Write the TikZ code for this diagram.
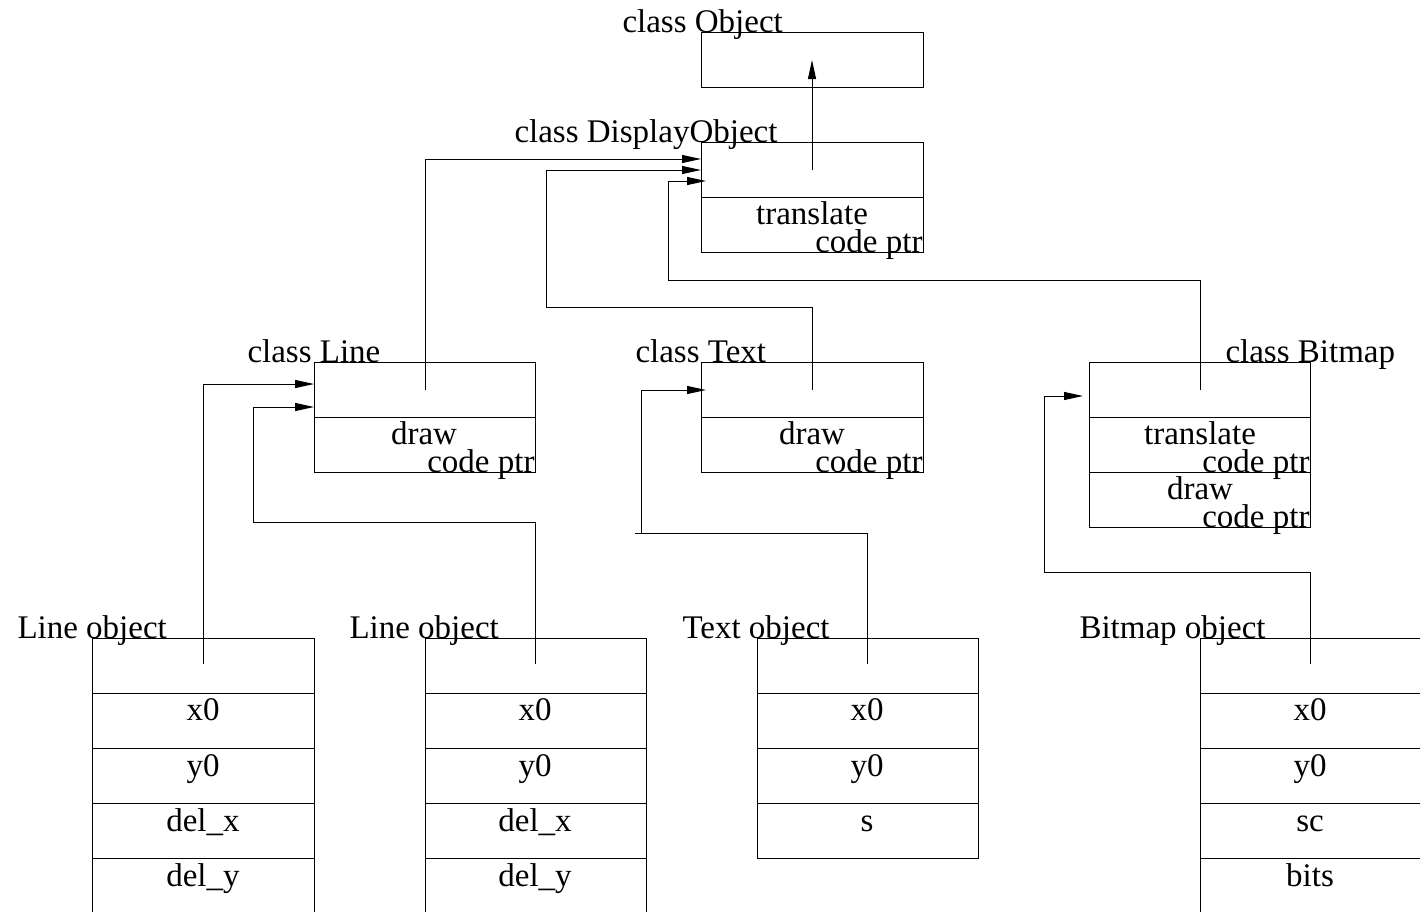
\documentclass[tikz,border=0pt]{standalone}
\usepackage{fontspec}
\setmainfont{Liberation Serif}
\usetikzlibrary{arrows.meta}
\begin{document}
\begin{tikzpicture}[x=1pt,y=-1pt,line width=1pt,
  box/.style={draw,rectangle,inner sep=0pt,outer sep=0pt,anchor=north west},
  txt/.style={inner sep=0pt,font=\fontsize{33}{40}\selectfont},
  lab/.style={txt,anchor=base west},
  ctext/.style={txt,anchor=base},
  rtext/.style={txt,anchor=base east},
  arr/.style={-{Triangle[length=19pt,width=8pt]}}
]
\useasboundingbox (0,0) rectangle (1420,911);
\clip (0,0) rectangle (1420,911);

% ---------- class Object ----------
\node[box,minimum width=222pt,minimum height=55pt] (obj) at (701,32) {};
\node[lab] (objlab) at (622,32) {class Object};

% ---------- class DisplayObject ----------
\node[box,minimum width=222pt,minimum height=110pt] (dobj) at (701,142) {};
\draw (701,197) -- (923,197);
\node[lab] (dobjlab) at (514,142) {class DisplayObject};
\node[ctext] (dobjtr) at (812,224) {translate};
\node[rtext] (dobjcp) at (923,252) {code ptr};

% ---------- class Line ----------
\node[box,minimum width=221pt,minimum height=110pt] (cline) at (314,362) {};
\draw (314,417) -- (535,417);
\node[lab] (clinelab) at (247,362) {class Line};
\node[ctext] (clinedr) at (424,444) {draw};
\node[rtext] (clinecp) at (535,472) {code ptr};

% ---------- class Text ----------
\node[box,minimum width=222pt,minimum height=110pt] (ctext) at (701,362) {};
\draw (701,417) -- (923,417);
\node[lab] (ctextlab) at (635,362) {class Text};
\node[ctext] (ctextdr) at (812,444) {draw};
\node[rtext] (ctextcp) at (923,472) {code ptr};

% ---------- class Bitmap ----------
\node[box,minimum width=221pt,minimum height=165pt] (cbmp) at (1089,362) {};
\draw (1089,417) -- (1310,417);
\draw (1089,472) -- (1310,472);
\node[lab] (cbmplab) at (1225,362) {class Bitmap};
\node[ctext] (cbmptr) at (1200,444) {translate};
\node[rtext] (cbmpcp1) at (1310,472) {code ptr};
\node[ctext] (cbmpdr) at (1200,499) {draw};
\node[rtext] (cbmpcp2) at (1310,527) {code ptr};

% ---------- Line object 1 ----------
\draw (92,950) -- (92,638) -- (314,638) -- (314,950);
\foreach \yy in {693,748,803,858} \draw (92,\yy) -- (314,\yy);
\node[lab] (lo1lab) at (17,638) {Line object};
\node[ctext] (lo1a) at (203,720) {x0};
\node[ctext] (lo1b) at (203,776) {y0};
\node[ctext] (lo1c) at (203,831) {del\_x};
\node[ctext] (lo1d) at (203,886) {del\_y};

% ---------- Line object 2 ----------
\draw (425,950) -- (425,638) -- (646,638) -- (646,950);
\foreach \yy in {693,748,803,858} \draw (425,\yy) -- (646,\yy);
\node[lab] (lo2lab) at (349,638) {Line object};
\node[ctext] (lo2a) at (535,720) {x0};
\node[ctext] (lo2b) at (535,776) {y0};
\node[ctext] (lo2c) at (535,831) {del\_x};
\node[ctext] (lo2d) at (535,886) {del\_y};

% ---------- Text object ----------
\node[box,minimum width=221pt,minimum height=220pt] (tobj) at (757,638) {};
\foreach \yy in {693,748,803} \draw (757,\yy) -- (978,\yy);
\node[lab] (tolab) at (682,638) {Text object};
\node[ctext] (toa) at (867,720) {x0};
\node[ctext] (tob) at (867,776) {y0};
\node[ctext] (toc) at (867,831) {s};

% ---------- Bitmap object ----------
\draw (1200,950) -- (1200,638) -- (1460,638);
\foreach \yy in {693,748,803,858} \draw (1200,\yy) -- (1460,\yy);
\node[lab] (bolab) at (1079,638) {Bitmap object};
\node[ctext] (boa) at (1310,720) {x0};
\node[ctext] (bob) at (1310,776) {y0};
\node[ctext] (boc) at (1310,831) {sc};
\node[ctext] (bod) at (1310,886) {bits};

% ---------- connector end points ----------
\coordinate (dobjsrc) at (812,170);
\coordinate (objtip) at (812,60);
\coordinate (clinesrc) at (425,390);
\coordinate (ctextsrc) at (812,390);
\coordinate (cbmpsrc) at (1200,390);
\coordinate (dtip1) at (701,159);
\coordinate (dtip2) at (701,170);
\coordinate (dtip3) at (706,181);
\coordinate (lo1src) at (203,664);
\coordinate (lo2src) at (535,664);
\coordinate (tosrc) at (867,664);
\coordinate (bosrc) at (1310,664);
\coordinate (ltip1) at (314,384);
\coordinate (ltip2) at (314,407);
\coordinate (ttip) at (706,390);
\coordinate (btip) at (1083,396);
\coordinate (ttick) at (635,533);

% ---------- connectors ----------
\draw[arr] (dobjsrc) -- (objtip);
\draw[arr] (clinesrc) |- (dtip1);
\draw[arr] (ctextsrc) |- (546,307) |- (dtip2);
\draw[arr] (cbmpsrc) |- (668,280) |- (dtip3);
\draw[arr] (lo1src) |- (ltip1);
\draw[arr] (lo2src) |- (253,522) |- (ltip2);
\draw (tosrc) |- (ttick);
\draw[arr] (641,533) |- (ttip);
\draw[arr] (bosrc) |- (1044,572) |- (btip);
\end{tikzpicture}
\end{document}
